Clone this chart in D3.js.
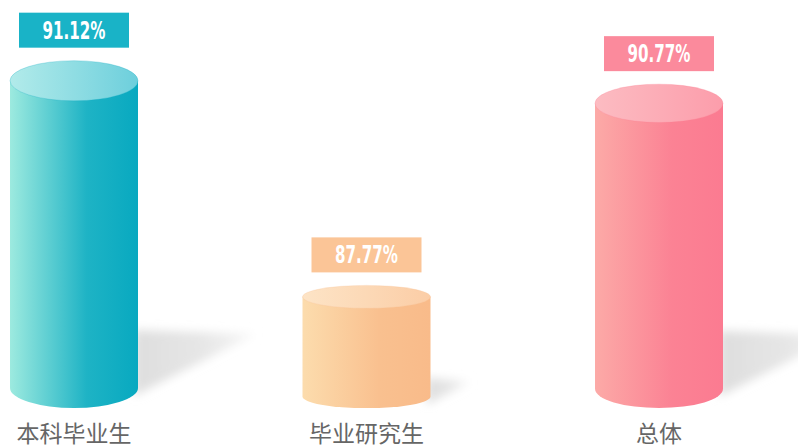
<!DOCTYPE html>
<html>
<head>
  <meta charset="utf-8">
  <title>Cylinder bars</title>
  <script src="https://d3js.org/d3.v7.min.js"></script>
  <style type="text/css">
    body { margin: 0; background: #fff; }
    #chart { display: block; }
  </style>
</head>
<body>
  <svg id="chart"></svg>
  <script type="text/javascript">
    // chart data
    const categories = ["本科毕业生", "毕业研究生", "总体"];
    const values = [91.12, 87.77, 90.77];
    const labels = ["91.12%", "87.77%", "90.77%"];

    // colours per bar: body left/right, top left/right, label box
    const bodyLeft = ["#9deadf", "#fcdcad", "#fcaaa7"];
    const bodyRight = ["#08a9c0", "#f9bb8a", "#fb7b91"];
    const topLeft = ["#b2ebea", "#fde4c6", "#fcbcc2"];
    const topRight = ["#6dcfdc", "#fbcda6", "#fc9dab"];
    const boxColor = ["#19b3c7", "#fbc597", "#fb8a9c"];

    const width = 798;
    const height = 448;
    const baseY = 408;     // lower edge of every cylinder
    const barW = 128;

    const svg = d3.select("#chart")
        .attr("width", width)
        .attr("height", height);

    const x = d3.scalePoint()
        .domain(categories)
        .range([74, 659]);

    const y = d3.scaleLinear()
        .domain([86, 92])
        .range([411, 24]);

    const defs = svg.append("defs");

    // gradients for each bar
    categories.forEach((c, i) => {
      const gb = defs.append("linearGradient").attr("id", "body" + i)
          .attr("x1", "0%").attr("x2", "100%").attr("y1", "0%").attr("y2", "0%");
      gb.append("stop").attr("offset", "0%").attr("stop-color", bodyLeft[i]);
      gb.append("stop").attr("offset", "60%").attr("stop-color", d3.interpolateRgb(bodyLeft[i], bodyRight[i])(0.85));
      gb.append("stop").attr("offset", "100%").attr("stop-color", bodyRight[i]);

      const gt = defs.append("linearGradient").attr("id", "top" + i)
          .attr("x1", "0%").attr("x2", "100%").attr("y1", "0%").attr("y2", "0%");
      gt.append("stop").attr("offset", "0%").attr("stop-color", topLeft[i]);
      gt.append("stop").attr("offset", "100%").attr("stop-color", topRight[i]);
    });

    const gs = defs.append("linearGradient").attr("id", "shade")
        .attr("x1", "0%").attr("x2", "100%").attr("y1", "0%").attr("y2", "0%");
    gs.append("stop").attr("offset", "0%").attr("stop-color", "#dedede");
    gs.append("stop").attr("offset", "55%").attr("stop-color", "#e6e6e6");
    gs.append("stop").attr("offset", "100%").attr("stop-color", "#f8f8f8");

    defs.append("filter").attr("id", "blur")
        .attr("x", "-30%").attr("y", "-30%").attr("width", "160%").attr("height", "160%")
      .append("feGaussianBlur").attr("stdDeviation", 5);

    // geometry per bar
    const bars = categories.map((c, i) => {
      const cx = x(c);
      const topY = y(values[i]);
      const h = baseY - topY;
      const ry = 7 + 0.04 * h;
      return { c, i, cx, topY, h, ry, botY: baseY - ry };
    });

    // cast shadows
    svg.append("g")
      .selectAll("path")
      .data(bars)
      .join("path")
        .attr("d", d => {
          const x0 = d.cx + barW / 2 - 4;
          const sw = Math.min(0.4 * d.h, 122);
          const sh = Math.min(0.24 * d.h, 66);
          const yb = d.botY + 8;
          return `M${x0},${yb - sh} L${x0 + sw},${yb - sh + 4} L${x0},${yb} Z`;
        })
        .attr("fill", "url(#shade)")
        .attr("filter", "url(#blur)");

    // cylinder bodies
    const g = svg.append("g");

    g.selectAll("path.body")
      .data(bars)
      .join("path")
        .attr("class", "body")
        .attr("d", d => {
          const l = d.cx - barW / 2, r = d.cx + barW / 2;
          return `M${l},${d.topY} L${l},${d.botY} A${barW / 2},${d.ry} 0 0 0 ${r},${d.botY} L${r},${d.topY} Z`;
        })
        .attr("fill", d => `url(#body${d.i})`);

    g.selectAll("ellipse.top")
      .data(bars)
      .join("ellipse")
        .attr("class", "top")
        .attr("cx", d => d.cx)
        .attr("cy", d => d.topY)
        .attr("rx", barW / 2)
        .attr("ry", d => d.ry)
        .attr("fill", d => `url(#top${d.i})`)
        .attr("stroke", d => bodyRight[d.i])
        .attr("stroke-opacity", 0.25)
        .attr("stroke-width", 1);

    // value boxes
    const lab = svg.append("g");
    lab.selectAll("rect")
      .data(bars)
      .join("rect")
        .attr("x", d => d.cx - 55)
        .attr("y", d => d.topY - d.ry - 13 - 35)
        .attr("width", 110)
        .attr("height", 35)
        .attr("fill", d => boxColor[d.i]);

    lab.selectAll("text")
      .data(bars)
      .join("text")
        .attr("x", d => d.cx)
        .attr("y", d => d.topY - d.ry - 13 - 9)
        .attr("text-anchor", "middle")
        .attr("fill", "#fff")
        .attr("font-family", "'Liberation Sans Narrow', 'DejaVu Sans Condensed', 'Roboto', sans-serif")
        .attr("font-weight", "bold")
        .attr("font-size", 24)
        .attr("textLength", 63)
        .attr("lengthAdjust", "spacingAndGlyphs")
        .text(d => labels[d.i]);

    // category labels
    svg.append("g")
      .selectAll("text")
      .data(bars)
      .join("text")
        .attr("x", d => d.cx)
        .attr("y", 442)
        .attr("text-anchor", "middle")
        .attr("fill", "#666")
        .attr("font-family", "'Noto Sans CJK SC', sans-serif")
        .attr("font-size", 23)
        .text(d => d.c);
  </script>
</body>
</html>
